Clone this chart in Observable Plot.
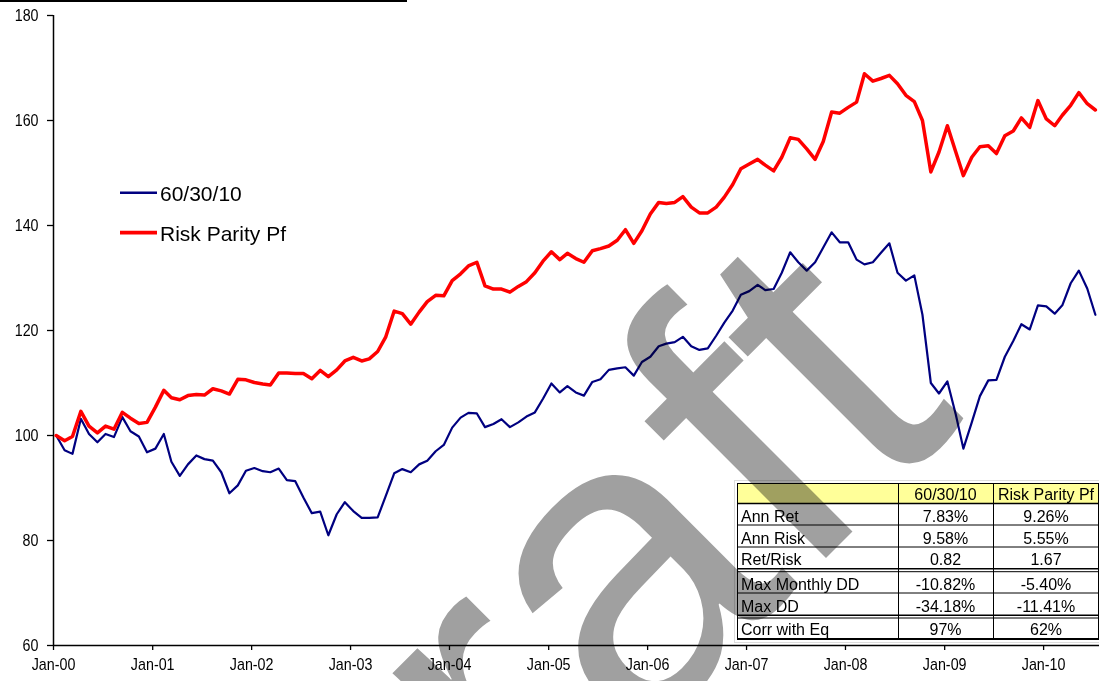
<!DOCTYPE html>
<html>
<head>
<meta charset="utf-8">
<script src="https://cdn.jsdelivr.net/npm/d3@7"></script>
<script src="https://cdn.jsdelivr.net/npm/@observablehq/plot@0.6"></script>
<style>
  html, body { margin: 0; padding: 0; background: #fff; }
  #wrap { position: relative; width: 1099px; height: 681px; overflow: hidden; background: #fff; }
  #wrap > svg, #wrap > div { position: absolute; left: 0; top: 0; }
  #topline { left: 0; top: 0; width: 407px; height: 2px; background: #000; }
</style>
</head>
<body>
<div id="wrap"><div id="topline"></div></div>
<script>
// ---------- DATA ----------
const seriesNames = ["60/30/10", "Risk Parity Pf"];
// monthly index values, Jan-2000 .. Jul-2010
const balanced603010 = [
  100, 97.2, 96.5, 103.2, 100.3, 98.7, 100.3, 99.7, 103.5, 100.8, 99.8, 96.8,
  97.5, 100.3, 95, 92.3, 94.5, 96.2, 95.5, 95.2, 93, 89, 90.5, 93.3,
  93.8, 93.2, 93, 93.7, 91.5, 91.3, 88.2, 85.2, 85.5, 81, 85, 87.3,
  85.6, 84.3, 84.3, 84.4, 88.5, 92.8, 93.6, 93, 94.5, 95.2, 97, 98.2,
  101.5, 103.4, 104.3, 104.2, 101.6, 102.2, 103.1, 101.6, 102.5, 103.6, 104.4, 107,
  109.9, 108.2, 109.4, 108.2, 107.6, 110.2, 110.7, 112.5, 112.8, 113, 111.4, 114,
  115, 117, 117.5, 117.8, 118.8, 117, 116.3, 116.6, 119, 121.5, 123.8, 126.8,
  127.5, 128.7, 127.7, 127.9, 131, 134.9, 133, 131.4, 133, 135.8, 138.7, 136.8,
  136.8, 133.5, 132.6, 133, 134.8, 136.6, 131, 129.5, 130.5, 123, 110, 108,
  110.3, 104, 97.5, 102.5, 107.5, 110.5, 110.6, 115, 118, 121.2, 120.2, 124.8,
  124.6, 123.2, 124.8, 129, 131.4, 128, 123
];
const riskParityPf = [
  100, 99, 99.8, 104.6, 101.8, 100.5, 101.8, 101.2, 104.4, 103.3, 102.3, 102.5,
  105.4, 108.6, 107.2, 106.8, 107.6, 107.8, 107.7, 108.9, 108.5, 107.9, 110.7, 110.6,
  110.1, 109.8, 109.6, 111.9, 111.9, 111.8, 111.8, 110.8, 112.4, 111.2, 112.5, 114.2,
  114.9, 114.2, 114.6, 116, 118.8, 123.7, 123.2, 121.2, 123.5, 125.5, 126.7, 126.6,
  129.5, 130.8, 132.3, 133, 128.5, 127.9, 127.9, 127.3, 128.4, 129.3, 131, 133.2,
  135, 133.5, 134.7, 133.7, 133, 135.2, 135.6, 136.1, 137.2, 139.2, 136.6, 139,
  142.2, 144.4, 144.2, 144.4, 145.5, 143.5, 142.4, 142.4, 143.5, 145.4, 147.8, 150.8,
  151.7, 152.6, 151.5, 150.4, 153, 156.7, 156.4, 154.6, 152.6, 156, 161.6, 161.4,
  162.5, 163.5, 168.9, 167.5, 168, 168.6, 167, 164.8, 163.6, 160, 150.2, 154,
  159, 154, 149.5, 153, 155, 155.2, 153.7, 157.1, 158, 160.5, 158.7, 163.8,
  160.3, 159, 161, 162.9, 165.3, 163.2, 162
];
const yTicks = [60, 80, 100, 120, 140, 160, 180];
const xTickLabels = ["Jan-00","Jan-01","Jan-02","Jan-03","Jan-04","Jan-05","Jan-06","Jan-07","Jan-08","Jan-09","Jan-10"];

// statistics table
const tableHeader = ["", "60/30/10", "Risk Parity Pf"];
const statNames = ["Ann Ret", "Ann Risk", "Ret/Risk", "Max Monthly DD", "Max DD", "Corr with Eq"];
const stat603010 = ["7.83%", "9.58%", "0.82", "-10.82%", "-34.18%", "97%"];
const statRiskParity = ["9.26%", "5.55%", "1.67", "-5.40%", "-11.41%", "62%"];

const watermarkText = "Draft";

// ---------- BUILD ----------
const colors = {"60/30/10": "#000080", "Risk Parity Pf": "#ff0000"};
const widths = {"60/30/10": 2.2, "Risk Parity Pf": 3.5};
const rows = [];
[balanced603010, riskParityPf].forEach((arr, s) => {
  arr.forEach((v, i) => rows.push({series: seriesNames[s], date: new Date(Date.UTC(2000, i, 11)), value: v}));
});
const t0 = Date.UTC(2000, 0, 1);
const xDomain = [new Date(t0), new Date(t0 + 10.566 * 365.25 * 864e5)];
const yearTicks = xTickLabels.map((_, k) => new Date(Date.UTC(2000 + k, 0, 1)));
const axisFont = "Arial, 'Liberation Sans', sans-serif";

const chart = Plot.plot({
  width: 1099, height: 681,
  marginLeft: 53, marginRight: 0, marginTop: 15, marginBottom: 36,
  style: {background: "transparent", color: "#000", fontFamily: axisFont, fontSize: "17px", overflow: "visible"},
  x: {type: "utc", domain: xDomain},
  y: {domain: [60, 180]},
  marks: [
    Plot.axisX({ticks: yearTicks, tickFormat: d => xTickLabels[d.getUTCFullYear() - 2000], tickSize: 5, tickPadding: 7, label: null, stroke: "#000", strokeWidth: 1.3, fill: "#000"}),
    Plot.axisY({ticks: yTicks, tickSize: 6, tickPadding: 9, label: null, stroke: "#000", strokeWidth: 1.3, fill: "#000"}),
    Plot.ruleY([60], {stroke: "#000", strokeWidth: 1.5}),
    Plot.ruleX([xDomain[0]], {stroke: "#000", strokeWidth: 1.5}),
    Plot.lineY(rows.filter(d => d.series === seriesNames[0]), {x: "date", y: "value", stroke: colors[seriesNames[0]], strokeWidth: widths[seriesNames[0]], curve: "linear"}),
    Plot.lineY(rows.filter(d => d.series === seriesNames[1]), {x: "date", y: "value", stroke: colors[seriesNames[1]], strokeWidth: widths[seriesNames[1]], curve: "linear"})
  ]
});
const wrap = document.getElementById("wrap");
wrap.insertBefore(chart, wrap.firstChild);

// condense the axis tick labels horizontally (tall, narrow look of the original)
chart.querySelectorAll('g[aria-label$="tick label"] text').forEach(t => {
  const len = t.getComputedTextLength();
  if (len > 0) {
    t.setAttribute("textLength", (len * 0.84).toFixed(1));
    t.setAttribute("lengthAdjust", "spacingAndGlyphs");
  }
});

const NS = "http://www.w3.org/2000/svg";
function overlay() {
  const s = d3.create("svg").attr("width", 1099).attr("height", 681).attr("xmlns", NS);
  wrap.appendChild(s.node());
  return s;
}

// legend
const leg = overlay();
seriesNames.forEach((name, k) => {
  const yy = 192.7 + k * 40;
  leg.append("line").attr("x1", 120).attr("x2", 157).attr("y1", yy).attr("y2", yy)
    .attr("stroke", colors[name]).attr("stroke-width", widths[name] + 0.2);
  leg.append("text").attr("x", 160).attr("y", yy + 8).attr("font-family", "Arial, 'Liberation Sans', sans-serif")
    .attr("font-size", 21).attr("fill", "#000").text(name);
});

// table
const tbl = overlay();
const colX = [737, 898, 993, 1099];
const rowTop = [483, 503, 525, 547, 571.5, 593, 617.5];
const rowBot = [503, 525, 547, 568.5, 593, 615, 638.5];
const tf = "Arial, 'Liberation Sans', sans-serif";
tbl.append("rect").attr("x", 734.5).attr("y", 480.5).attr("width", 370).attr("height", 162).attr("fill", "none").attr("stroke", "#dcdcdc");
tbl.append("rect").attr("x", colX[0]).attr("y", rowTop[0]).attr("width", colX[3] - colX[0]).attr("height", rowBot[0] - rowTop[0]).attr("fill", "#ffff99");
const hl = (y, w) => tbl.append("line").attr("x1", colX[0]).attr("x2", 1099).attr("y1", y).attr("y2", y).attr("stroke", "#000").attr("stroke-width", w);
hl(483.5, 1); hl(503.5, 1.3); hl(525, 1); hl(547, 1); hl(568.7, 1.6); hl(571.7, 1); hl(593, 1); hl(615.2, 1.6); hl(618, 1); hl(639, 2.2);
colX.slice(0, 3).forEach(x => tbl.append("line").attr("x1", x + 0.5).attr("x2", x + 0.5).attr("y1", 483).attr("y2", 639).attr("stroke", "#000").attr("stroke-width", 1));
tbl.append("line").attr("x1", 1098.5).attr("x2", 1098.5).attr("y1", 483).attr("y2", 639).attr("stroke", "#000").attr("stroke-width", 1);
const cellText = (x, y, txt, anchor) => tbl.append("text").attr("x", x).attr("y", y).attr("text-anchor", anchor)
  .attr("font-family", tf).attr("font-size", 16).attr("fill", "#000").text(txt);
cellText((colX[1] + colX[2]) / 2, 500, tableHeader[1], "middle");
cellText((colX[2] + colX[3]) / 2, 500, tableHeader[2], "middle");
statNames.forEach((nm, r) => {
  const yb = rowBot[r + 1] - 3.2;
  cellText(colX[0] + 4, yb, nm, "start");
  cellText((colX[1] + colX[2]) / 2, yb, stat603010[r], "middle");
  cellText((colX[2] + colX[3]) / 2, yb, statRiskParity[r], "middle");
});

// watermark
const wm = overlay().style("mix-blend-mode", "multiply");
wm.append("text").attr("x", 314).attr("y", 1070).attr("transform", "rotate(-45 314 1070)")
  .attr("font-family", "Arial, 'Liberation Sans', sans-serif").attr("font-size", 426).attr("fill", "#a0a0a0").text(watermarkText);
</script>
</body>
</html>
